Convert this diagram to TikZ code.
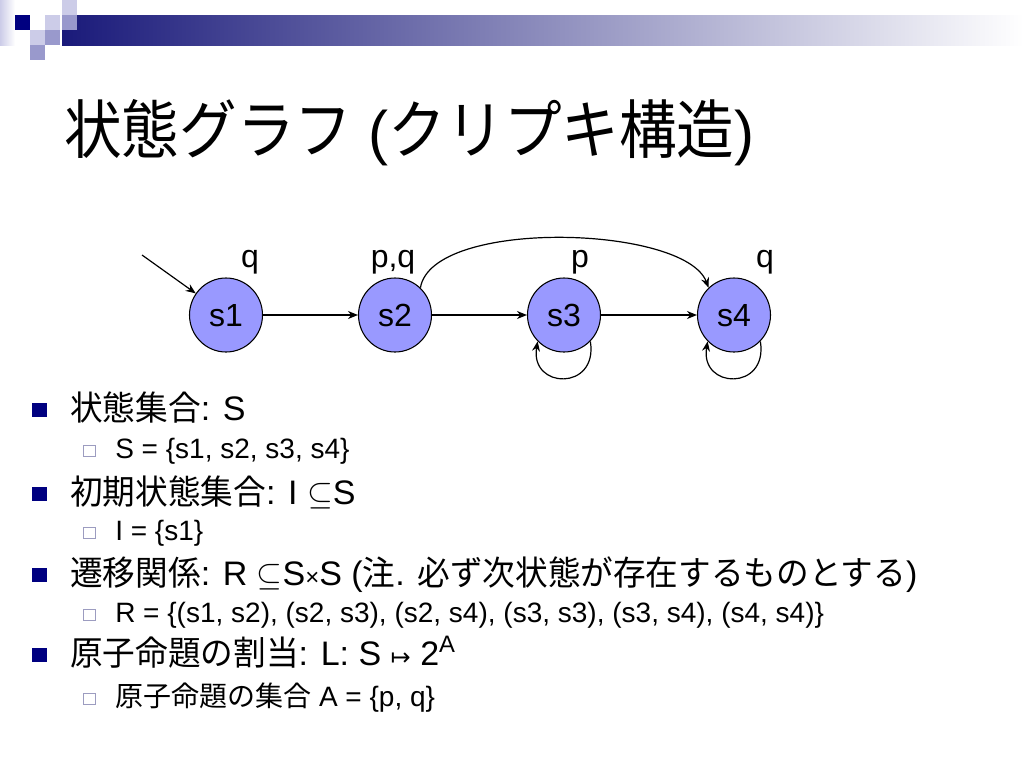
\documentclass[tikz,border=0pt]{standalone}
\usepackage{fontspec}
\setmainfont{Liberation Sans}
\newfontfamily\jp[FakeStretch=0.9]{Noto Sans CJK JP}
\newfontfamily\jpA[FakeStretch=0.96]{Noto Sans CJK JP}
\newfontfamily\jpB{Noto Sans CJK JP}
\newfontfamily\djv{DejaVu Sans}
\usetikzlibrary{shapes.geometric,arrows.meta}
\definecolor{nodefill}{HTML}{9999FF}
\definecolor{bulletnavy}{HTML}{000080}
\definecolor{barnavy}{RGB}{26,26,122}
\definecolor{lavlight}{HTML}{CCCCE8}
\definecolor{lavmid}{HTML}{9999CC}
\definecolor{subgray}{HTML}{9C9CC0}
\newcommand\ttlsize{\fontsize{48}{52}\selectfont}
\newcommand\ttllat{\fontsize{45}{52}\selectfont}
\newcommand\lvone{\fontsize{25.5}{30}\selectfont}
\newcommand\lvtwo{\fontsize{21}{25}\selectfont}
\tikzset{
  statenode/.style={ellipse, draw=black, line width=0.8pt, fill=nodefill,
    minimum width=54.75pt, minimum height=55.5pt, inner sep=0pt,
    text height=17.2pt, text depth=0pt,
    font=\fontsize{24}{24}\selectfont},
  edge/.style={draw=black, line width=0.9pt, -{Stealth[length=7.5pt,width=6pt]}},
  lbl/.style={anchor=base, inner sep=0pt, font=\fontsize{24}{24}\selectfont},
  txt/.style={anchor=base west, inner sep=0pt},
  bulletA/.style={rectangle, fill=bulletnavy, draw=none, minimum size=11pt, inner sep=0pt},
  bulletB/.style={rectangle, draw=subgray, fill=white, line width=0.75pt, minimum size=8.5pt, inner sep=0pt},
}
\begin{document}
\begin{tikzpicture}[x=0.75pt,y=-0.75pt]
\useasboundingbox (0,0) rectangle (1024,768);
\fill[white] (0,0) rectangle (1024,768);
% corner decoration
\shade[left color=barnavy, right color=white] (62,15) rectangle (1024,45);
\shade[left color=lavlight, right color=white] (0,0) rectangle (15,45);
\fill[bulletnavy] (15,15) rectangle (30,30);
\fill[lavlight] (45,15) rectangle (60,30);
\fill[lavlight] (62,0) rectangle (77,15);
\fill[lavmid] (62,15) rectangle (77,30);
\fill[lavlight] (30,30) rectangle (45,45);
\fill[lavmid] (45,30) rectangle (60,45);
\fill[lavmid] (30,45) rectangle (45,60);
% title
\node[txt] (title) at (64,153) {\ttlsize{\jp 状態グラフ}\ttllat\ (\ttlsize{\jp クリプキ構造}\ttllat)};
% graph
\node[statenode] (s1) at (226,315) {s1};
\node[statenode] (s2) at (395,315) {s2};
\node[statenode] (s3) at (564,315) {s3};
\node[statenode] (s4) at (734,315) {s4};
\node[lbl] (l1) at (250,267) {q};
\node[lbl] (l2) at (393,267) {p,q};
\node[lbl] (l3) at (580,267) {p};
\node[lbl] (l4) at (765,267) {q};
\coordinate (init) at (142,255);
\draw[edge] (init) -- (s1);
\draw[edge] (s1) -- (s2);
\draw[edge] (s2) -- (s3);
\draw[edge] (s3) -- (s4);
\draw[edge] (s2.47) .. controls (432,218) and (685,225) .. (s4.133);
\draw[edge] (s3.-45) .. controls +(8,50) and +(-8,48) .. (s3.-135);
\draw[edge] (s4.-45) .. controls +(8,50) and +(-8,48) .. (s4.-135);
% bullets
\node[bulletA] (b1) at (39.5,410) {};
\node[bulletA] (b3) at (39.5,494) {};
\node[bulletA] (b5) at (39.5,575) {};
\node[bulletA] (b7) at (39.5,655) {};
\node[bulletB] (b2) at (89.5,451) {};
\node[bulletB] (b4) at (89.5,533) {};
\node[bulletB] (b6) at (89.5,615) {};
\node[bulletB] (b8) at (89.5,699) {};
% text lines
\node[txt] (t1) at (70,420) {\lvone{\jpA 状態集合}: S};
\node[txt] (t2) at (115,458) {\lvtwo S = \{s1, s2, s3, s4\}};
\node[txt] (t3) at (70,504) {\lvone{\jpA 初期状態集合}: I $\subseteq$S};
\node[txt] (t4) at (115,540) {\lvtwo I = \{s1\}};
\node[txt] (t5) at (70,585) {\lvone{\jpA 遷移関係}: R $\subseteq$S{\fontsize{18}{20}\selectfont ×}S ({\jpA 注}. {\jpA 必ず次状態が存在するものとする})};
\node[txt] (t6) at (115,622) {\lvtwo R = \{(s1, s2), (s2, s3), (s2, s4), (s3, s3), (s3, s4), (s4, s4)\}};
\node[txt] (t7) at (70,665) {\lvone{\jpA 原子命題の割当}: L: S {\djv\fontsize{18}{18}\selectfont ↦} 2\textsuperscript{A}};
\node[txt] (t8) at (115,706) {\lvtwo{\jpB 原子命題の集合} A = \{p, q\}};
\end{tikzpicture}
\end{document}
